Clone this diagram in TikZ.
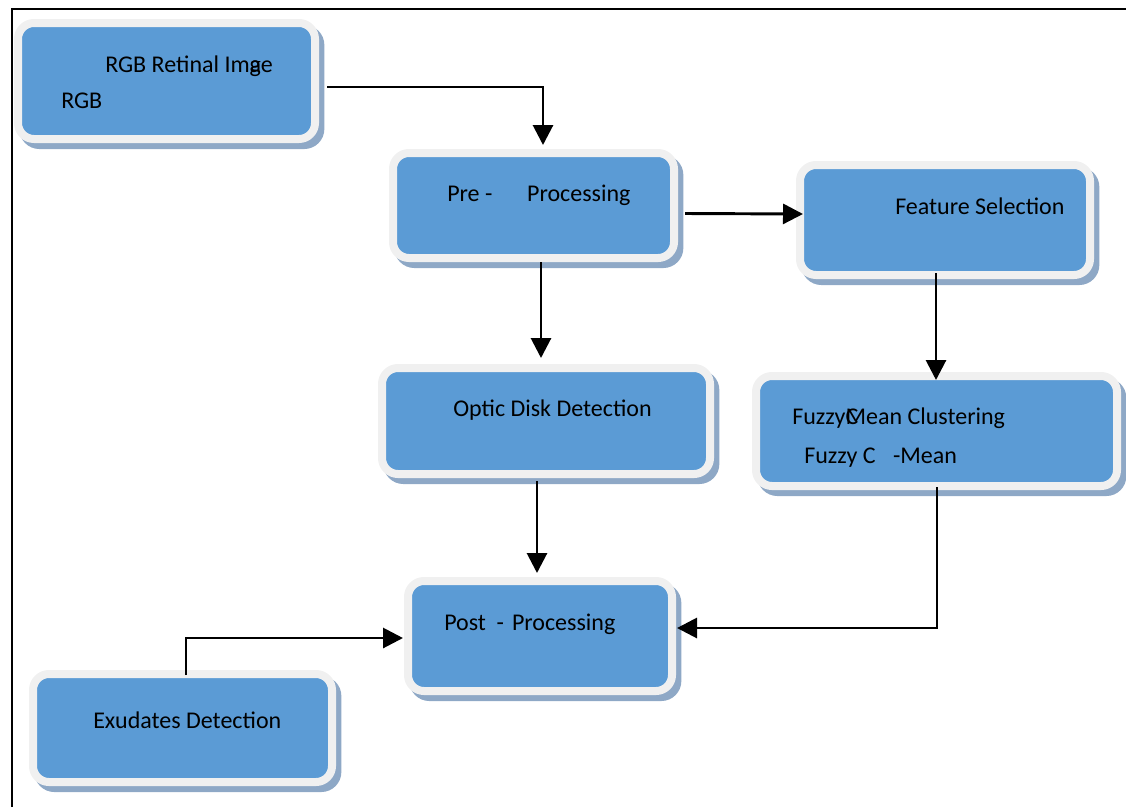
\documentclass[tikz,border=0pt]{standalone}
\usepackage{fontspec}
\setmainfont{Carlito}
\usepackage{xcolor}
\usepackage{tikz}
\usetikzlibrary{arrows.meta,shadows}

\definecolor{boxblue}{HTML}{5B9BD5}
\definecolor{ringgrey}{HTML}{F0F0F0}
\definecolor{shadowblue}{HTML}{8EA8C6}

\tikzset{
  box/.style={draw=ringgrey,line width=6pt,fill=boxblue,rounded corners=12pt,
    drop shadow={shadow xshift=4pt,shadow yshift=-4.5pt,fill=shadowblue,draw=shadowblue,line width=6pt,opacity=1}},
  lbl/.style={anchor=base west,inner sep=0pt,font=\fontsize{18}{22}\selectfont},
  arr/.style={line width=2.2pt,-{Triangle[length=15pt,width=15pt]}}
}

\begin{document}
\begin{tikzpicture}[x=0.75pt,y=-0.75pt]
					\useasboundingbox (0,0) rectangle (1126,807);
					\draw[line width=1.3pt] (12,807) -- (12,9) -- (1126,9);
					% boxes
					\node[box,minimum width=222.75pt,minimum height=87pt] (rgb) at (166.5,81) {};
					\node[box,minimum width=210.75pt,minimum height=78.75pt] (pre) at (533.5,205.5) {};
					\node[box,minimum width=217.5pt,minimum height=82.5pt] (feature) at (945,220) {};
					\node[box,minimum width=246pt,minimum height=79.5pt] (optic) at (546,421) {};
					\node[box,minimum width=270.75pt,minimum height=82.5pt] (fuzzy) at (936.5,431) {};
					\node[box,minimum width=198pt,minimum height=82.5pt] (post) at (540,636) {};
					\node[box,minimum width=224.25pt,minimum height=81pt] (exudates) at (182.5,728) {};
					% texts
					\node[lbl] (rgbtitle) at (105,72) {RGB Retinal Im\rlap{a}ge};
					\node[lbl] (rgbshort) at (61,108) {RGB};
					\node[lbl] (pretext) at (447,201) {Pre -\hspace{26pt}Processing};
					\node[lbl] (featuretext) at (895,214) {Feature Selection};
					\node[lbl] (optictext) at (453,416) {Optic Disk Detection};
					\node[lbl] (fuzzytitle) at (792,424) {Fuzzy\rlap{C}Mean Clustering};
					\node[lbl] (fuzzyshort) at (804,463) {Fuzzy C\hspace{13pt}-Mean};
					\node[lbl] (posttext) at (444,630) {Post\hspace{8pt}-\hspace{6pt}Processing};
					\node[lbl] (exudatestext) at (93,728) {Exudates Detection};
					% connectors
					\draw[arr] ([shift={(8,6)}]rgb.east) -| ([shift={(9.5,-4)}]pre.north);
					\draw[arr] ([shift={(7,8)}]pre.east) -- ([shift={(7,-6)}]feature.west);
					\draw[arr] ([shift={(7.5,0)}]pre.south) -- ([shift={(-5,-6)}]optic.north);
					\draw[arr] ([shift={(-9,-6)}]feature.south) -- ([shift={(-0.5,8)}]fuzzy.north);
					\draw[arr] ([shift={(-9,3)}]optic.south) -- ([shift={(-3,-4)}]post.north);
					\draw[arr] ([shift={(0.5,-3)}]fuzzy.south) |- ([shift={(1,-8)}]post.east);
					\draw[arr] ([shift={(3.5,5)}]exudates.north) |- ([shift={(-1,2)}]post.west);
				\end{tikzpicture}
\end{document}
